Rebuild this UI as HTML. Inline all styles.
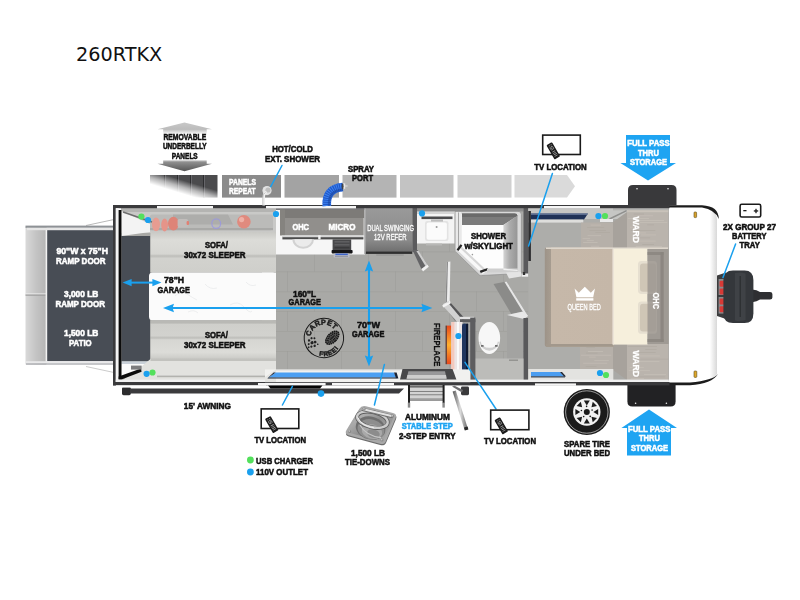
<!DOCTYPE html>
<html><head><meta charset="utf-8"><title>260RTKX</title>
<style>
html,body{margin:0;padding:0;background:#fff;}
body{width:800px;height:600px;overflow:hidden;position:relative;font-family:'Liberation Sans',sans-serif;}
#title{position:absolute;left:76.2px;top:42.2px;font-family:'DejaVu Sans','Liberation Sans',sans-serif;font-size:20px;line-height:24px;color:#111;white-space:nowrap;transform:scaleX(0.962);transform-origin:0 0;}
svg{position:absolute;left:0;top:0;will-change:transform;filter:blur(0.4px);}
svg text{font-family:'Liberation Sans',sans-serif;}
</style></head><body>
<div id="title">260RTKX</div>
<svg width="800" height="600" viewBox="0 0 800 600">
<defs>
<linearGradient id="gRamp" x1="0" y1="0" x2="1" y2="0"><stop offset="0" stop-color="#d9d9d9"/><stop offset="0.5" stop-color="#c4c4c4"/><stop offset="1" stop-color="#b4b4b4"/></linearGradient>
<linearGradient id="gUp" x1="0" y1="0" x2="0" y2="1"><stop offset="0" stop-color="#c8c8c8"/><stop offset="0.55" stop-color="#bcbcbc"/><stop offset="0.95" stop-color="#ffffff"/></linearGradient>
<linearGradient id="gDn" x1="0" y1="0" x2="0" y2="1"><stop offset="0" stop-color="#ffffff"/><stop offset="0.2" stop-color="#909090"/><stop offset="1" stop-color="#555555"/></linearGradient>
<linearGradient id="gPanelFade" gradientUnits="userSpaceOnUse" x1="185.6" y1="181" x2="181.8" y2="193.6"><stop offset="0" stop-color="#fff" stop-opacity="0"/><stop offset="0.5" stop-color="#fff" stop-opacity="0.6"/><stop offset="1" stop-color="#fff" stop-opacity="1"/></linearGradient>
<linearGradient id="gRefer" x1="0" y1="0" x2="0" y2="1"><stop offset="0" stop-color="#9a9a9a"/><stop offset="0.7" stop-color="#8a8a8a"/><stop offset="1" stop-color="#6a6a6a"/></linearGradient>
<linearGradient id="gSofaT" x1="0" y1="0" x2="0" y2="1"><stop offset="0" stop-color="#c9c9c5"/><stop offset="0.2" stop-color="#dcdcd8"/><stop offset="0.55" stop-color="#d6d6d2"/><stop offset="0.6" stop-color="#bdbdb9"/><stop offset="0.66" stop-color="#d2d2ce"/><stop offset="1" stop-color="#cfcfcb"/></linearGradient>
<linearGradient id="gSofaB" x1="0" y1="0" x2="0" y2="1"><stop offset="0" stop-color="#cfcfcb"/><stop offset="0.34" stop-color="#d2d2ce"/><stop offset="0.4" stop-color="#bdbdb9"/><stop offset="0.45" stop-color="#d6d6d2"/><stop offset="0.8" stop-color="#dcdcd8"/><stop offset="1" stop-color="#c9c9c5"/></linearGradient>
<linearGradient id="gSilver" x1="0" y1="0" x2="1" y2="1"><stop offset="0" stop-color="#cfcfcf"/><stop offset="0.5" stop-color="#8f8f8f"/><stop offset="1" stop-color="#adadad"/></linearGradient>
<linearGradient id="gFire" x1="0" y1="0" x2="0" y2="1"><stop offset="0" stop-color="#e8491d"/><stop offset="0.5" stop-color="#ffb02e"/><stop offset="1" stop-color="#e8491d"/></linearGradient>
<linearGradient id="gCap" x1="0" y1="0" x2="1" y2="0"><stop offset="0" stop-color="#ffffff"/><stop offset="0.85" stop-color="#ffffff"/><stop offset="1" stop-color="#d8d8d8"/></linearGradient>
<linearGradient id="gBlanket" x1="0" y1="0" x2="1" y2="0"><stop offset="0" stop-color="#9d9388"/><stop offset="0.085" stop-color="#a69c90"/><stop offset="0.095" stop-color="#c6b8a9"/><stop offset="1" stop-color="#c5b7a8"/></linearGradient>
<linearGradient id="gShW" x1="0" y1="0" x2="1" y2="0"><stop offset="0" stop-color="#d4d4d4"/><stop offset="0.45" stop-color="#ababab"/><stop offset="1" stop-color="#959595"/></linearGradient>
<linearGradient id="gHandle" x1="0" y1="0" x2="1" y2="0"><stop offset="0" stop-color="#555"/><stop offset="0.5" stop-color="#ddd"/><stop offset="1" stop-color="#666"/></linearGradient>
</defs>

<g id="panels">
<rect x="150" y="175" width="67.5" height="22.6" fill="#4b4b4d"/>
<rect x="164" y="175" width="1" height="22.6" fill="#2e2e30"/>
<rect x="165" y="175" width="1" height="22.6" fill="#66666a"/>
<rect x="177" y="175" width="1" height="22.6" fill="#2e2e30"/>
<rect x="178" y="175" width="1" height="22.6" fill="#66666a"/>
<rect x="190" y="175" width="1" height="22.6" fill="#2e2e30"/>
<rect x="191" y="175" width="1" height="22.6" fill="#66666a"/>
<rect x="203" y="175" width="1" height="22.6" fill="#2e2e30"/>
<rect x="204" y="175" width="1" height="22.6" fill="#66666a"/>
<rect x="149" y="174" width="69.5" height="24.6" fill="url(#gPanelFade)"/>
<rect x="222" y="175" width="59" height="22.6" fill="#8b8b8b"/>
<rect x="284.5" y="175" width="54.5" height="22.6" fill="#a3a3a3"/>
<rect x="342.5" y="175" width="54.0" height="22.6" fill="#b4b4b4"/>
<rect x="400" y="175" width="53.5" height="22.6" fill="#c3c3c3"/>
<rect x="457.5" y="175" width="54.0" height="22.6" fill="#d0d0d0"/>
<polygon points="514.5,175 567,175 575,186.3 567,197.6 514.5,197.6" fill="#dadada"/>
</g>
<polygon points="184.5,122.5 212,129.3 206.7,129.3 206.7,135 163.2,135 163.2,129.3 157.5,129.3" fill="url(#gUp)"/>
<polygon points="163.2,159.6 206.7,159.6 206.7,163.75 212,163.75 184.5,171.25 157.5,163.75 163.2,163.75" fill="url(#gDn)"/>
<text x="163.4" y="140.3" textLength="42.8" lengthAdjust="spacingAndGlyphs" font-size="8.6" font-weight="bold" fill="#111" stroke="#111" stroke-width="0.55" >REMOVABLE</text>
<text x="162.9" y="149.3" textLength="43.7" lengthAdjust="spacingAndGlyphs" font-size="8.6" font-weight="bold" fill="#111" stroke="#111" stroke-width="0.55" >UNDERBELLY</text>
<text x="171.8" y="158.6" textLength="25.9" lengthAdjust="spacingAndGlyphs" font-size="8.6" font-weight="bold" fill="#111" stroke="#111" stroke-width="0.55" >PANELS</text>
<text x="229.0" y="184.9" textLength="27.0" lengthAdjust="spacingAndGlyphs" font-size="8.8" font-weight="bold" fill="#fff" stroke="#fff" stroke-width="0.55" >PANELS</text>
<text x="229.0" y="194.2" textLength="26.6" lengthAdjust="spacingAndGlyphs" font-size="8.8" font-weight="bold" fill="#fff" stroke="#fff" stroke-width="0.55" >REPEAT</text>
<g id="ramp">
<line x1="86" y1="225.5" x2="114" y2="219.5" stroke="#9a9a9a" stroke-width="0.7"/>
<line x1="86" y1="366.5" x2="114" y2="372.5" stroke="#b5b5b5" stroke-width="0.7"/>
<rect x="25.5" y="226" width="21" height="139" rx="1.5" fill="url(#gRamp)"/>
<rect x="25.5" y="293.5" width="21" height="1" fill="#f4f4f4"/><rect x="25.5" y="294.5" width="21" height="1.2" fill="#9c9c9c"/>
<rect x="25.5" y="225.6" width="88" height="2.2" fill="#8e9296"/>
<rect x="27" y="227.8" width="86" height="2.4" fill="#e6e6e6"/>
<rect x="45.6" y="230" width="1.6" height="133" fill="#f2f2f2"/>
<rect x="47.2" y="230.2" width="66" height="131" fill="#484d55"/>
<rect x="26" y="361.2" width="88" height="2" fill="#e9e9ea"/>
<rect x="26" y="363.2" width="88" height="1.6" fill="#b8babd"/>
</g>
<g id="body">
<rect x="121" y="208" width="548" height="173" fill="#a9a9a6"/>
<rect x="276" y="251.5" width="252" height="0.8" fill="#9a9a97" opacity="0.55"/>
<rect x="276" y="271.4" width="252" height="0.8" fill="#9a9a97" opacity="0.55"/>
<rect x="276" y="291.4" width="252" height="0.8" fill="#9a9a97" opacity="0.55"/>
<rect x="276" y="311" width="252" height="0.8" fill="#9a9a97" opacity="0.55"/>
<rect x="276" y="331" width="252" height="0.8" fill="#9a9a97" opacity="0.55"/>
<rect x="276" y="351" width="252" height="0.8" fill="#9a9a97" opacity="0.55"/>
<rect x="287" y="231.5" width="0.8" height="20" fill="#9a9a97" opacity="0.5"/>
<rect x="341" y="231.5" width="0.8" height="20" fill="#9a9a97" opacity="0.5"/>
<rect x="395" y="231.5" width="0.8" height="20" fill="#9a9a97" opacity="0.5"/>
<rect x="449" y="231.5" width="0.8" height="20" fill="#9a9a97" opacity="0.5"/>
<rect x="503" y="231.5" width="0.8" height="20" fill="#9a9a97" opacity="0.5"/>
<rect x="314" y="251.5" width="0.8" height="20" fill="#9a9a97" opacity="0.5"/>
<rect x="368" y="251.5" width="0.8" height="20" fill="#9a9a97" opacity="0.5"/>
<rect x="422" y="251.5" width="0.8" height="20" fill="#9a9a97" opacity="0.5"/>
<rect x="476" y="251.5" width="0.8" height="20" fill="#9a9a97" opacity="0.5"/>
<rect x="287" y="271.4" width="0.8" height="20" fill="#9a9a97" opacity="0.5"/>
<rect x="341" y="271.4" width="0.8" height="20" fill="#9a9a97" opacity="0.5"/>
<rect x="395" y="271.4" width="0.8" height="20" fill="#9a9a97" opacity="0.5"/>
<rect x="449" y="271.4" width="0.8" height="20" fill="#9a9a97" opacity="0.5"/>
<rect x="503" y="271.4" width="0.8" height="20" fill="#9a9a97" opacity="0.5"/>
<rect x="314" y="291.4" width="0.8" height="20" fill="#9a9a97" opacity="0.5"/>
<rect x="368" y="291.4" width="0.8" height="20" fill="#9a9a97" opacity="0.5"/>
<rect x="422" y="291.4" width="0.8" height="20" fill="#9a9a97" opacity="0.5"/>
<rect x="476" y="291.4" width="0.8" height="20" fill="#9a9a97" opacity="0.5"/>
<rect x="287" y="311" width="0.8" height="20" fill="#9a9a97" opacity="0.5"/>
<rect x="341" y="311" width="0.8" height="20" fill="#9a9a97" opacity="0.5"/>
<rect x="395" y="311" width="0.8" height="20" fill="#9a9a97" opacity="0.5"/>
<rect x="449" y="311" width="0.8" height="20" fill="#9a9a97" opacity="0.5"/>
<rect x="503" y="311" width="0.8" height="20" fill="#9a9a97" opacity="0.5"/>
<rect x="314" y="331" width="0.8" height="20" fill="#9a9a97" opacity="0.5"/>
<rect x="368" y="331" width="0.8" height="20" fill="#9a9a97" opacity="0.5"/>
<rect x="422" y="331" width="0.8" height="20" fill="#9a9a97" opacity="0.5"/>
<rect x="476" y="331" width="0.8" height="20" fill="#9a9a97" opacity="0.5"/>
<rect x="287" y="351" width="0.8" height="20" fill="#9a9a97" opacity="0.5"/>
<rect x="341" y="351" width="0.8" height="20" fill="#9a9a97" opacity="0.5"/>
<rect x="395" y="351" width="0.8" height="20" fill="#9a9a97" opacity="0.5"/>
<rect x="449" y="351" width="0.8" height="20" fill="#9a9a97" opacity="0.5"/>
<rect x="503" y="351" width="0.8" height="20" fill="#9a9a97" opacity="0.5"/>
<rect x="121" y="208" width="156" height="25" fill="#c9c9c7"/>
<rect x="121" y="208" width="156" height="4" fill="#b4b4b2"/>
<polygon points="121.5,211 150,224 150,232 121.5,236" fill="#f3f3f3"/>
<rect x="150" y="214.6" width="123" height="15.6" rx="2" fill="#bbbbb9"/>
<path d="M173 214.6 H228 L233 224.6 H173 z" fill="#adadab"/>
<rect x="150" y="228" width="123" height="2.2" fill="#a9a9a7"/>
<ellipse cx="156" cy="224.4" rx="4" ry="6.8" fill="#e79c91"/><ellipse cx="164.6" cy="225" rx="3.4" ry="6.4" fill="#e59489"/><ellipse cx="173.4" cy="223.6" rx="5.4" ry="6.8" fill="#de8478"/><rect x="177.6" y="219" width="10.4" height="8" rx="1.5" fill="#c1bdbb"/><rect x="186.6" y="221" width="2.4" height="4" rx="1" fill="#e27f72"/>
<circle cx="243.9" cy="221.8" r="6.8" fill="#e08a7e"/><circle cx="241.6" cy="219.6" r="2.6" fill="#eeb0a6"/>
<ellipse cx="216.2" cy="223.6" rx="4.4" ry="4.8" fill="none" stroke="#9a98e0" stroke-width="1.2" opacity="0.85"/>
<line x1="123" y1="212" x2="152" y2="222" stroke="#6d6d6d" stroke-width="1.4"/>
<rect x="121.5" y="236" width="28.7" height="125.3" fill="#484d55"/>
<rect x="121.5" y="361.3" width="28" height="2.8" fill="#c9d0d8"/>
<rect x="121.5" y="364" width="24" height="13" fill="#fbfbfb"/>
<rect x="150.5" y="232" width="125.5" height="40" fill="url(#gSofaT)"/>
<rect x="149" y="272.6" width="127" height="47.6" rx="3.5" fill="#fbfbfb"/>
<rect x="262" y="272.6" width="14" height="47.6" fill="#fbfbfb"/>
<rect x="150.5" y="320.2" width="125.5" height="3.5" fill="#b9b9b5"/>
<rect x="150.5" y="323.5" width="125.5" height="36" fill="url(#gSofaB)"/>
<polygon points="150.5,359 276,359 276,381 121.5,381 142,366 " fill="#e2e2df"/>
<rect x="150.5" y="358.5" width="125.5" height="2.5" fill="#c2c2be"/>
<rect x="157" y="375.6" width="119" height="1.6" fill="#b2b2ae"/>
<path d="M175 296 q6 -6 12 -2 t10 6 M205 284 q5 6 12 4 M230 305 q8 -5 14 2 t8 4 M188 312 q6 -3 10 1 M246 282 q4 5 10 3" fill="none" stroke="#e6e8ea" stroke-width="0.7"/>
</g>
<g id="kitchen">
<rect x="276" y="208" width="89" height="46.5" fill="#f6f6f6"/>
<rect x="276" y="208" width="89" height="2" fill="#77777a"/>
<rect x="280" y="209.5" width="84.5" height="9" fill="#7d7b78"/>
<rect x="280" y="209.5" width="5" height="26" fill="#85837f"/>
<rect x="285" y="218" width="79.5" height="17.4" fill="#918f8c"/>
<rect x="282" y="235.4" width="81.6" height="1.8" fill="#d6d6d6"/>
<rect x="282.4" y="237.2" width="81" height="2.2" fill="#4c4c4c"/>
<rect x="318.2" y="235.4" width="2.4" height="4" fill="#f6f6f6"/>
<rect x="363.6" y="218" width="0.9" height="18" fill="#e8e8e8"/>
<path d="M292.4 239.2 h21.6 a10.8 9.6 0 0 1 -21.6 0 z" fill="#d2d2d2"/>
<path d="M294.4 239.2 h17.6 a8.8 7.6 0 0 1 -17.6 0 z" fill="#ebebeb"/>
<rect x="332.6" y="239.4" width="18.6" height="13" fill="#48484a"/>
<rect x="334.5" y="241" width="15" height="1.6" fill="#5e5e60"/><rect x="334.5" y="244" width="15" height="1.6" fill="#5e5e60"/><rect x="334.5" y="247" width="15" height="1.4" fill="#39393b"/>
<rect x="331.6" y="250" width="21" height="3.4" rx="0.8" fill="#151517"/>
<rect x="333.6" y="253.4" width="16" height="4.2" rx="1.2" fill="#b9bcc9"/><rect x="335.4" y="253.6" width="12.4" height="1.5" fill="#3f66cc"/><rect x="335" y="255.8" width="13" height="1" fill="#8d8f99"/>
<rect x="364.5" y="208" width="48" height="46" fill="url(#gRefer)"/>
<rect x="364.5" y="208" width="1" height="46" fill="#b9b9b9"/>
<rect x="366" y="251.6" width="46" height="2.2" fill="#2f2f2f"/>
<rect x="376" y="254" width="28" height="2" rx="1" fill="#9c9c9a"/>
</g>
<g id="bath">
<rect x="412.5" y="208" width="4.5" height="44" fill="#5b5b5d"/>
<polygon points="412.5,250 417.5,250 427.4,264.6 421.4,269" fill="#646466"/>
<polygon points="416.4,251 418.6,251 427.4,264.4 425.4,266" fill="#cfcfcf"/>
<polygon points="421.4,269 427.4,264.6 428.8,266.8 423,271.4" fill="#f0f0f0"/>
<rect x="417" y="208" width="37.5" height="35.5" fill="#f4f4f4"/>
<rect x="417" y="208" width="37.5" height="6" fill="#d5d5d5"/>
<rect x="421.5" y="216.5" width="31" height="2.6" fill="#4c4c4e"/>
<rect x="425" y="221" width="23.5" height="20" rx="2.2" fill="#e3e3e3"/>
<rect x="426.6" y="222.4" width="20.3" height="17.4" rx="2" fill="#fbfbfb"/>
<rect x="431" y="219.4" width="12" height="2.2" fill="#bdbdbd"/>
<circle cx="436.6" cy="227" r="1" fill="#9a9a9a"/>
<rect x="426" y="243.5" width="16" height="2" fill="#b8b8b6"/>
<path d="M455.3 211.3 H518 Q521.4 211.3 521.4 214.6 V273.4 L480 275.6 L455.3 251 z" fill="#d9d9d9" stroke="#8f8f8f" stroke-width="0.7"/>
<polygon points="461.4,214 517.6,214 517.6,270 485,271.6 461.4,248.4" fill="#fdfdfd"/>
<path d="M462 213.6 H514.6 Q517.4 213.6 517.4 216 L503.4 225 H462 z" fill="#7b7b7b"/>
<path d="M462 213.6 H514.6 Q517.4 213.6 517.4 216 L516 217 H462 z" fill="#6a6a6a"/>
<polygon points="517.6,215.6 517.6,270 503.4,268.4 503.4,225" fill="url(#gShW)"/>
<rect x="455.6" y="212" width="5.6" height="38.6" fill="#e9e9e9"/>
<rect x="458" y="212.4" width="0.9" height="38" fill="#9d9d9d"/>
<polygon points="455.4,251 461.2,246.2 487,270.8 481,275.4" fill="#d6d6d6"/>
<polygon points="457.8,250.6 460.4,248.4 485.4,272 482.6,274" fill="#f8f8f8"/>
<polygon points="456.6,249.6 460.6,244.2 462.4,245.6 458.4,251" fill="#262626"/>
<polygon points="479.6,270.8 487.6,268 488.4,270 480.8,273" fill="#262626"/>
<polygon points="487,268.6 518,268.6 518,272 487,272.6" fill="#cfcfcf"/>
<polygon points="503.4,268.4 517.6,270 517.6,271 503.4,270" fill="#f1f1f1"/>
<polygon points="506,272.4 521,272 521,276.4 509,278.4" fill="#e4e4e4"/>
<circle cx="472.4" cy="254.6" r="0.8" fill="#9a9a9a"/>
<rect x="417" y="208" width="106.5" height="3.4" fill="#8c8c8c"/>
<rect x="523.5" y="208" width="4.8" height="68" fill="#59595b"/>
<rect x="521.5" y="273.5" width="7" height="3.2" fill="#f0f0f0"/><rect x="522.8" y="272" width="2.4" height="3" fill="#333"/>
<polygon points="446.8,262 450.4,261.4 449.6,305 445.4,305" fill="#ededed"/>
<polygon points="446.8,262 448,261.8 446.8,305 445.4,305" fill="#8a8a8a"/>
<polygon points="443,304 448.5,301.5 460.5,318 455,321" fill="#7d7d7d"/>
<polygon points="445.6,303.2 448.5,301.5 460.5,318 458,319.4" fill="#dadada"/>
<polygon points="443,304 450,301 451,303.4 444.4,306.4" fill="#f4f4f4"/>
<polygon points="493.5,284 506.5,281.5 528,316 516,322" fill="#8b8b89"/>
<polygon points="504.5,282 506.5,281.5 528,316 526,317" fill="#e6e6e6"/>
<polygon points="507,315 523,311.5 523,368 507,368" fill="#a3a3a1"/>
<polygon points="507,315 523,311.5 528,316 524,319 " fill="#e8e8e8"/>
<rect x="523.4" y="318" width="4.8" height="65" fill="#59595b"/>
<rect x="475" y="358.5" width="48.5" height="23" fill="#bcbcb9"/>
<rect x="509" y="359.5" width="9" height="1.4" fill="#8f8f8d"/>
<ellipse cx="489.3" cy="338" rx="10.8" ry="16" fill="#f7f7f7"/>
<path d="M479.4 342 a10.2 11.6 0 0 0 19.8 0 l-1.4 -0.6 a8 6 0 0 1 -17 0 z" fill="#cfcfcf"/>
<rect x="481" y="345.2" width="2.6" height="1.4" fill="#555"/><rect x="495" y="345.2" width="2.6" height="1.4" fill="#555"/>
<polygon points="442.6,305.4 447,302.4 463,319.4 463,323 458.6,323.6" fill="#d2d2d2"/>
<polygon points="447.4,302 450.6,302.8 465,318.8 462.6,320" fill="#555557"/>
<polygon points="442.2,305.6 449.6,301.4 450.6,303.6 443.4,307.6" fill="#f2f2f2"/>
<rect x="460" y="316.8" width="14" height="2.6" fill="#e2e2e2"/>
<rect x="460" y="319.2" width="15.4" height="3" fill="#5d5d5f"/>
<rect x="470.2" y="317.6" width="5.2" height="65" fill="#5d5d5f"/>
<rect x="446.6" y="325.6" width="4.8" height="38.6" fill="url(#gFire)"/>
<rect x="445.6" y="325.6" width="1.2" height="38.6" fill="#59302a"/>
<rect x="451.4" y="322" width="10.8" height="50" fill="#ece4e4"/>
<rect x="451.4" y="322" width="3" height="50" fill="#f4c9bd"/>
<rect x="457" y="322" width="2" height="50" fill="#fafafa"/>
<rect x="462" y="323.6" width="5.2" height="50.6" rx="2" fill="#20355e"/>
<rect x="466" y="323.6" width="2.2" height="50.6" rx="1" fill="#0e1830"/>
</g>
<g id="bed">
<rect x="528.3" y="208" width="85" height="173" fill="#adadaa"/>
<rect x="528.3" y="208" width="100" height="11" fill="#c6c6c4"/>
<polygon points="531,213.4 588,213.4 584,219.6 531,219.6" fill="#1f3157"/>
<polygon points="531,213.4 588,213.4 587.2,214.8 531,214.8" fill="#6f7fa0"/>
<rect x="528.3" y="219.6" width="55" height="3" fill="#dededc"/>
<rect x="528.3" y="211" width="2.6" height="50" fill="#2d2d2f"/>
<rect x="581" y="222.6" width="32" height="25.4" fill="#b6b0a9"/>
<rect x="580" y="345" width="33" height="24" fill="#b6b0a9"/>
<polygon points="613,222 627,212 627,248 613,248" fill="#a7a29c"/>
<rect x="627" y="212" width="41.5" height="36.5" fill="#bab4ad"/>
<polygon points="613,370 627,380 627,344 613,344" fill="#a7a29c"/>
<rect x="627" y="344" width="41.5" height="36.5" fill="#bab4ad"/>
<rect x="613" y="208" width="55.5" height="2.4" fill="#b3b3b1"/>
<rect x="627" y="210.2" width="41.5" height="2" fill="#c9c2ba"/>
<line x1="609.5" y1="219" x2="626.6" y2="210.6" stroke="#8f8f8d" stroke-width="1.5"/>
<rect x="633.7" y="213.7" width="10.3" height="0.7" fill="#a79f97" opacity="0.45"/>
<rect x="638.1" y="215.5" width="14.9" height="0.7" fill="#d6cec6" opacity="0.45"/>
<rect x="627.8" y="218.2" width="21.1" height="0.7" fill="#d6cec6" opacity="0.45"/>
<rect x="635.8" y="220.0" width="28.1" height="0.7" fill="#d6cec6" opacity="0.45"/>
<rect x="640.0" y="222.1" width="27.3" height="0.7" fill="#d6cec6" opacity="0.45"/>
<rect x="647.3" y="224.5" width="6.7" height="0.7" fill="#a79f97" opacity="0.45"/>
<rect x="630.0" y="226.8" width="9.8" height="0.7" fill="#d6cec6" opacity="0.45"/>
<rect x="630.8" y="230.2" width="24.5" height="0.7" fill="#a79f97" opacity="0.45"/>
<rect x="638.4" y="232.6" width="7.5" height="0.7" fill="#d6cec6" opacity="0.45"/>
<rect x="641.1" y="234.6" width="15.1" height="0.7" fill="#d6cec6" opacity="0.45"/>
<rect x="636.4" y="237.5" width="13.8" height="0.7" fill="#a79f97" opacity="0.45"/>
<rect x="632.1" y="240.7" width="23.5" height="0.7" fill="#d6cec6" opacity="0.45"/>
<rect x="642.1" y="244.2" width="11.9" height="0.7" fill="#a79f97" opacity="0.45"/>
<rect x="635.7" y="246.1" width="26.3" height="0.7" fill="#d6cec6" opacity="0.45"/>
<rect x="627.8" y="346.2" width="29.2" height="0.7" fill="#a79f97" opacity="0.45"/>
<rect x="645.2" y="349.1" width="11.4" height="0.7" fill="#a79f97" opacity="0.45"/>
<rect x="639.0" y="352.0" width="16.7" height="0.7" fill="#a79f97" opacity="0.45"/>
<rect x="636.8" y="355.6" width="23.0" height="0.7" fill="#d6cec6" opacity="0.45"/>
<rect x="640.4" y="358.8" width="27.9" height="0.7" fill="#a79f97" opacity="0.45"/>
<rect x="635.0" y="361.0" width="24.4" height="0.7" fill="#d6cec6" opacity="0.45"/>
<rect x="630.5" y="363.6" width="9.7" height="0.7" fill="#d6cec6" opacity="0.45"/>
<rect x="629.7" y="366.9" width="14.1" height="0.7" fill="#d6cec6" opacity="0.45"/>
<rect x="628.7" y="370.4" width="21.2" height="0.7" fill="#d6cec6" opacity="0.45"/>
<rect x="644.0" y="374.0" width="22.0" height="0.7" fill="#d6cec6" opacity="0.45"/>
<rect x="634.4" y="376.5" width="30.8" height="0.7" fill="#a79f97" opacity="0.45"/>
<rect x="630.7" y="378.4" width="13.4" height="0.7" fill="#d6cec6" opacity="0.45"/>
<rect x="590.6" y="224.7" width="10.2" height="0.7" fill="#d6cec6" opacity="0.45"/>
<rect x="587.2" y="227.2" width="16.9" height="0.7" fill="#a79f97" opacity="0.45"/>
<rect x="589.5" y="230.3" width="16.5" height="0.7" fill="#a79f97" opacity="0.45"/>
<rect x="595.4" y="232.1" width="14.6" height="0.7" fill="#a79f97" opacity="0.45"/>
<rect x="587.6" y="235.4" width="13.5" height="0.7" fill="#d6cec6" opacity="0.45"/>
<rect x="582.5" y="238.4" width="7.6" height="0.7" fill="#d6cec6" opacity="0.45"/>
<rect x="586.8" y="240.4" width="7.0" height="0.7" fill="#d6cec6" opacity="0.45"/>
<rect x="583.1" y="242.3" width="14.5" height="0.7" fill="#d6cec6" opacity="0.45"/>
<rect x="591.0" y="245.8" width="8.3" height="0.7" fill="#d6cec6" opacity="0.45"/>
<rect x="586.3" y="347.2" width="8.5" height="0.7" fill="#a79f97" opacity="0.45"/>
<rect x="588.0" y="351.0" width="15.0" height="0.7" fill="#d6cec6" opacity="0.45"/>
<rect x="586.0" y="352.8" width="11.4" height="0.7" fill="#a79f97" opacity="0.45"/>
<rect x="580.9" y="354.8" width="30.4" height="0.7" fill="#d6cec6" opacity="0.45"/>
<rect x="589.2" y="356.7" width="6.5" height="0.7" fill="#d6cec6" opacity="0.45"/>
<rect x="594.3" y="360.4" width="14.5" height="0.7" fill="#d6cec6" opacity="0.45"/>
<rect x="583.2" y="362.8" width="24.0" height="0.7" fill="#d6cec6" opacity="0.45"/>
<rect x="585.8" y="366.2" width="10.6" height="0.7" fill="#a79f97" opacity="0.45"/>
<polygon points="600,219 613,219 613,222 600,222" fill="#e9e9e9"/>
<rect x="528.3" y="369" width="85" height="12" fill="#e3e3e0"/>
<polygon points="531,372 560,372 564,376.6 531,376.6" fill="#4a9df0"/>
<polygon points="560,372 564,376.6 566,376.6 562,372" fill="#1d2330"/>
<rect x="531" y="376.4" width="34" height="1" fill="#1d2330"/>
<rect x="544.8" y="247.4" width="69" height="99.4" rx="2" fill="url(#gBlanket)"/>
<rect x="546" y="344" width="67.4" height="2.8" fill="#a2988c"/>
<rect x="546" y="247.4" width="122" height="1.6" fill="#ddd6cc"/>
<rect x="613" y="248.6" width="34.5" height="96" fill="#f6efdc"/>
<rect x="612.4" y="248.6" width="1.4" height="96" fill="#e9e2d8"/>
<rect x="638" y="261" width="19" height="33" rx="3.4" fill="#e6dfd0"/>
<rect x="638" y="301.4" width="19" height="32.4" rx="3.4" fill="#e6dfd0"/>
<rect x="640" y="263.4" width="16" height="28.4" rx="3" fill="#cfc6b6"/>
<rect x="640" y="303.8" width="16" height="27.6" rx="3" fill="#cfc6b6"/>
<rect x="647.5" y="249" width="21" height="95" fill="#9d9791" opacity="0.86"/>
<rect x="660.5" y="252" width="3.2" height="90" fill="#8a847e" opacity="0.9"/>
<rect x="647.5" y="252" width="16" height="3" fill="#8a847e" opacity="0.8"/>
<rect x="647.5" y="339" width="16" height="3" fill="#8a847e" opacity="0.8"/>
<path d="M574.6 288.6 l4.2 4.2 l6 -6 l6 6 l4.2 -4.2 l-1.8 8.6 h-16.8 z" fill="#fff"/>
<rect x="576.2" y="298.2" width="17.2" height="2.4" fill="#fff"/>
<text x="567.6" y="310.4" textLength="33.2" lengthAdjust="spacingAndGlyphs" font-size="9.4" font-weight="normal" fill="#fff" stroke="#fff" stroke-width="0.3" >QUEEN BED</text>
<text transform="translate(633.2,216.6) rotate(90)" x="0" y="0" textLength="26.4" lengthAdjust="spacingAndGlyphs" font-size="9.4" font-weight="bold" fill="#fff" stroke="#fff" stroke-width="0.3">WARD</text>
<text transform="translate(633.2,350.4) rotate(90)" x="0" y="0" textLength="26.6" lengthAdjust="spacingAndGlyphs" font-size="9.4" font-weight="bold" fill="#fff" stroke="#fff" stroke-width="0.3">WARD</text>
<text transform="translate(652.6,292.5) rotate(90)" x="0" y="0" textLength="16.5" lengthAdjust="spacingAndGlyphs" font-size="9.2" font-weight="bold" fill="#fff" stroke="#fff" stroke-width="0.3">OHC</text>
</g>
<g id="cap">
<path d="M669 207 H703 Q716.6 208 717 220 V374 Q712 382 690 383.4 H669 z" fill="url(#gCap)"/>
<path d="M669 205.2 H702 Q718.8 206 718.8 219 Q715 209.8 702 207.6 H669 z" fill="#1c1c1c"/>
<path d="M669 385.2 H690 Q712 384 718 374 Q713 380.4 690 382.6 H669 z" fill="#1c1c1c"/>
<rect x="694" y="212" width="2.6" height="5.6" rx="0.8" fill="#d9a12a" stroke="#5a4a1a" stroke-width="0.6"/>
<rect x="694" y="371" width="2.8" height="6.4" rx="0.8" fill="#e0a82a" stroke="#5a4a1a" stroke-width="0.6"/>
</g>
<path d="M628 205.5 V190 q0 -5 5 -5 h38.5 q5 0 5 5 V205.5 z" fill="#39393b"/>
<circle cx="637" cy="188.8" r="0.8" fill="#eee"/><circle cx="668" cy="188.8" r="0.8" fill="#eee"/>
<path d="M627.4 384.5 V401.5 q0 5 5 5 h38.2 q5 0 5 -5 V384.5 z" fill="#222224"/>
<circle cx="635.6" cy="403.2" r="0.8" fill="#eee"/><circle cx="666.4" cy="403.2" r="0.8" fill="#eee"/>
<g id="walls">
<rect x="113" y="205" width="556.5" height="3.2" fill="#3a3a3c"/>
<rect x="113" y="205" width="2.8" height="180.4" fill="#3a3a3c"/>
<rect x="115.8" y="208.2" width="2.8" height="174" fill="#f4f4f4"/>
<rect x="118.6" y="210" width="2.8" height="169.5" fill="#0c0c0c"/>
<polygon points="118.6,376.6 141,368.6 141.6,371.8 121.4,379.6 118.6,379.6" fill="#0c0c0c"/>
<rect x="131" y="365.6" width="10.6" height="4" fill="#7c7c7e"/>
<rect x="115.8" y="379.6" width="553" height="2.6" fill="#f0f0f0"/>
<rect x="113" y="382" width="556.5" height="3.4" fill="#3a3a3c"/>
<rect x="157" y="206" width="56" height="2.4" fill="#f6f6f6"/>
<rect x="266" y="206" width="90" height="2.4" fill="#f6f6f6"/>
<rect x="544" y="206" width="56" height="2.4" fill="#f6f6f6"/>
<rect x="535" y="383.4" width="41" height="2.4" fill="#f6f6f6"/>
</g>
<g id="bottom">
<rect x="265" y="369.4" width="205.4" height="12.8" fill="#f1f1ef"/>
<polygon points="276,369.4 265,377 265,382 276,382" fill="#e4e4e1"/>
<polygon points="275.6,372.5 394,372.5 396,377.6 268.6,377.6" fill="#4b9ff2"/>
<polygon points="268.6,377.4 396,377.4 396.4,378.6 267.4,378.6" fill="#1a2233"/>
<polygon points="394,372.5 396.6,372.5 398.4,378.6 396,378.6" fill="#1a2233"/>
<polygon points="275.6,372.5 268.6,377.6 267.2,378.4 273.6,372.5" fill="#1a2233"/>
<rect x="276" y="369.4" width="124" height="0.9" fill="#d0d0cd"/>
<polygon points="402.5,369 452.5,369 456.4,379.6 400,379.6" fill="#48484a"/>
<polygon points="408.4,371.2 445,371.2 446.6,378.8 406.6,378.8" fill="#98989a"/>
<polygon points="407.4,375 446,375 446.6,378.8 406.6,378.8" fill="#cdcdcd"/>
<rect x="258" y="383" width="67.6" height="2.4" fill="#f6f6f6"/>
<rect x="332" y="383" width="62" height="2.4" fill="#f6f6f6"/>
<rect x="122" y="386.8" width="8.8" height="8.4" rx="1.6" fill="#2c2c2e"/>
<polygon points="130,388.4 404,388.4 399,393.4 130,393.4" fill="#3b3b3d"/>
<polygon points="268,385.5 322.5,385.5 320,388.4 270.5,388.4" fill="#050505"/>
<rect x="116" y="385.4" width="150" height="2.2" fill="#ffffff"/>
<rect x="409" y="385.4" width="35" height="15.4" fill="#d3d3d3"/>
<rect x="409" y="385.4" width="35" height="2.2" fill="#6a6a6a"/>
<rect x="409" y="391" width="35" height="0.8" fill="#6e6e6e"/>
<rect x="409" y="394.4" width="35" height="0.8" fill="#6e6e6e"/>
<rect x="409" y="398.6" width="35" height="0.8" fill="#6e6e6e"/>
<rect x="409" y="399.6" width="35" height="1.2" fill="#8a8a8a"/>
<rect x="408" y="385" width="2" height="18" fill="#1e1e1e"/><rect x="442.6" y="385" width="2" height="18" fill="#1e1e1e"/>
<rect x="407.8" y="402.6" width="2.4" height="5" fill="#8a8a8a"/><rect x="442.4" y="402.6" width="2.4" height="5" fill="#8a8a8a"/>
<rect x="461" y="386.6" width="8" height="8.6" rx="1.4" fill="#3a3a3c"/>
<polygon points="452,386.6 454.6,385.8 463,390 462,392.4" fill="#6d6d6f"/>
<polygon points="452.6,391.4 455.8,390.4 467.8,428.4 464.4,429.6" fill="url(#gHandle)"/>
<polygon points="464,427.6 467.6,426.6 468.4,429.4 464.8,430.4" fill="#2a2a2a"/>
</g>
<g id="hitch">
<polygon points="717,275.6 726,272.6 726,319 717,316" fill="#3c3c3e"/>
<rect x="718.6" y="279" width="7.4" height="16" fill="#8a8a8c"/><rect x="718.6" y="297" width="7.4" height="16.6" fill="#8a8a8c"/>
<rect x="719.6" y="280.8" width="5" height="6" rx="1" fill="#d83a36"/>
<rect x="719.6" y="288.4" width="5" height="6" rx="1" fill="#d83a36"/>
<rect x="719.6" y="298.6" width="5" height="6" rx="1" fill="#d83a36"/>
<rect x="719.6" y="306.2" width="5" height="6" rx="1" fill="#d83a36"/>
<path d="M752 289.4 q5 0.2 8 2.6 h10 q2.4 0 2.4 2 v3.6 q0 2 -2.4 2 h-10 q-3 2.4 -8 2.6 z" fill="#2e2f32"/>
<path d="M723.4 280 Q723.6 270.4 733 270.4 H744.6 Q753.4 270.4 753.4 280 V313.4 Q753.4 323 744.6 323 H733 Q723.6 323 723.4 313.4 z" fill="#34373b"/>
<path d="M735 273 Q740 271.6 745.6 273.4 V320 Q740 321.8 735 320.4 z" fill="#3f4246"/>
<rect x="739.6" y="276" width="1.2" height="41" fill="#2b2d30"/>
</g>
<g id="arrows">
<line x1="128" y1="282.6" x2="156" y2="282.6" stroke="#1aa0ee" stroke-width="2"/>
<polygon points="122.6,282.6 131.6,279 131.6,286.2" fill="#1aa0ee"/><polygon points="161.4,282.6 152.4,279 152.4,286.2" fill="#1aa0ee"/>
<line x1="170" y1="308" x2="425" y2="308" stroke="#1aa0ee" stroke-width="2.1"/>
<polygon points="163,308 174,303.8 172.6,308 174,312.2" fill="#1aa0ee"/><polygon points="432.4,308 421.4,303.8 422.8,308 421.4,312.2" fill="#1aa0ee"/>
<line x1="369" y1="268" x2="369" y2="360" stroke="#1aa0ee" stroke-width="2.1"/>
<polygon points="369,260.4 364.8,271.4 369,270 373.2,271.4" fill="#1aa0ee"/><polygon points="369,366.6 364.8,355.6 369,357 373.2,355.6" fill="#1aa0ee"/>
<line x1="282" y1="165.5" x2="268.6" y2="190.6" stroke="#1aa0ee" stroke-width="1.5" stroke-linecap="round"/>
<line x1="552.4" y1="173.5" x2="528.6" y2="246" stroke="#1aa0ee" stroke-width="1.5" stroke-linecap="round"/>
<line x1="735.6" y1="244" x2="723" y2="277.6" stroke="#1aa0ee" stroke-width="1.5" stroke-linecap="round"/>
<line x1="292.4" y1="386.4" x2="282.4" y2="405" stroke="#1aa0ee" stroke-width="1.5" stroke-linecap="round"/>
<line x1="384.4" y1="364.4" x2="374.4" y2="405" stroke="#1aa0ee" stroke-width="1.5" stroke-linecap="round"/>
<line x1="465" y1="362.4" x2="496" y2="409" stroke="#1aa0ee" stroke-width="1.5" stroke-linecap="round"/>
<circle cx="141.4" cy="216.6" r="3.1" fill="#53e05c"/>
<circle cx="148" cy="220" r="3.1" fill="#1aa0ee"/>
<circle cx="276" cy="214" r="3.1" fill="#1aa0ee"/>
<circle cx="422" cy="213.4" r="3.1" fill="#1aa0ee"/>
<circle cx="605" cy="216" r="3.1" fill="#53e05c"/>
<circle cx="598.4" cy="216" r="3.1" fill="#1aa0ee"/>
<circle cx="152.5" cy="372.5" r="3.1" fill="#53e05c"/>
<circle cx="146.6" cy="373.8" r="3.1" fill="#1aa0ee"/>
<circle cx="606" cy="375" r="3.1" fill="#53e05c"/>
<circle cx="600" cy="373" r="3.1" fill="#1aa0ee"/>
<circle cx="321" cy="393.6" r="3.3" fill="#1aa0ee"/>
<circle cx="458.4" cy="336" r="3.1" fill="#1aa0ee"/>
<circle cx="250.4" cy="460" r="3.4" fill="#53e05c"/>
<circle cx="250.4" cy="472" r="3.4" fill="#1aa0ee"/>
</g>
<polygon points="626,135 670,135 670,163 676,163 648,180.6 620.4,163 626,163" fill="#1ea4f2"/>
<polygon points="649,409.6 677,428 671,428 671,455.6 627,455.6 627,428 621.4,428" fill="#1ea4f2"/>
<text x="627.2" y="146.2" textLength="42.4" lengthAdjust="spacingAndGlyphs" font-size="9" font-weight="bold" fill="#fff" stroke="#fff" stroke-width="0.55" >FULL PASS</text>
<text x="638.0" y="155.6" textLength="21.0" lengthAdjust="spacingAndGlyphs" font-size="9" font-weight="bold" fill="#fff" stroke="#fff" stroke-width="0.55" >THRU</text>
<text x="630.0" y="164.9" textLength="37.0" lengthAdjust="spacingAndGlyphs" font-size="9" font-weight="bold" fill="#fff" stroke="#fff" stroke-width="0.55" >STORAGE</text>
<text x="628.0" y="432.2" textLength="42.4" lengthAdjust="spacingAndGlyphs" font-size="9" font-weight="bold" fill="#fff" stroke="#fff" stroke-width="0.55" >FULL PASS</text>
<text x="639.0" y="441.4" textLength="21.0" lengthAdjust="spacingAndGlyphs" font-size="9" font-weight="bold" fill="#fff" stroke="#fff" stroke-width="0.55" >THRU</text>
<text x="631.0" y="450.5" textLength="37.0" lengthAdjust="spacingAndGlyphs" font-size="9" font-weight="bold" fill="#fff" stroke="#fff" stroke-width="0.55" >STORAGE</text>
<text x="272.2" y="151.9" textLength="40.6" lengthAdjust="spacingAndGlyphs" font-size="8.9" font-weight="bold" fill="#111" stroke="#111" stroke-width="0.55" >HOT/COLD</text>
<text x="265.0" y="161.5" textLength="55.0" lengthAdjust="spacingAndGlyphs" font-size="8.9" font-weight="bold" fill="#111" stroke="#111" stroke-width="0.55" >EXT. SHOWER</text>
<text x="348.0" y="171.9" textLength="26.0" lengthAdjust="spacingAndGlyphs" font-size="8.9" font-weight="bold" fill="#111" stroke="#111" stroke-width="0.55" >SPRAY</text>
<text x="352.0" y="180.9" textLength="21.0" lengthAdjust="spacingAndGlyphs" font-size="8.9" font-weight="bold" fill="#111" stroke="#111" stroke-width="0.55" >PORT</text>
<text x="534.2" y="169.5" textLength="52.6" lengthAdjust="spacingAndGlyphs" font-size="8.9" font-weight="bold" fill="#111" stroke="#111" stroke-width="0.55" >TV LOCATION</text>
<text x="723.0" y="229.9" textLength="53.0" lengthAdjust="spacingAndGlyphs" font-size="8.9" font-weight="bold" fill="#111" stroke="#111" stroke-width="0.55" >2X GROUP 27</text>
<text x="732.0" y="239.2" textLength="34.4" lengthAdjust="spacingAndGlyphs" font-size="8.9" font-weight="bold" fill="#111" stroke="#111" stroke-width="0.55" >BATTERY</text>
<text x="739.6" y="248.3" textLength="20.2" lengthAdjust="spacingAndGlyphs" font-size="8.9" font-weight="bold" fill="#111" stroke="#111" stroke-width="0.55" >TRAY</text>
<text x="56.4" y="254.2" textLength="51.6" lengthAdjust="spacingAndGlyphs" font-size="8.9" font-weight="bold" fill="#fff" stroke="#fff" stroke-width="0.55" >90"W x 75"H</text>
<text x="56.0" y="264.2" textLength="49.6" lengthAdjust="spacingAndGlyphs" font-size="8.9" font-weight="bold" fill="#fff" stroke="#fff" stroke-width="0.55" >RAMP DOOR</text>
<text x="64.0" y="296.9" textLength="34.4" lengthAdjust="spacingAndGlyphs" font-size="8.9" font-weight="bold" fill="#fff" stroke="#fff" stroke-width="0.55" >3,000 LB</text>
<text x="55.4" y="306.7" textLength="49.6" lengthAdjust="spacingAndGlyphs" font-size="8.9" font-weight="bold" fill="#fff" stroke="#fff" stroke-width="0.55" >RAMP DOOR</text>
<text x="64.0" y="336.3" textLength="34.4" lengthAdjust="spacingAndGlyphs" font-size="8.9" font-weight="bold" fill="#fff" stroke="#fff" stroke-width="0.55" >1,500 LB</text>
<text x="69.0" y="345.9" textLength="22.6" lengthAdjust="spacingAndGlyphs" font-size="8.9" font-weight="bold" fill="#fff" stroke="#fff" stroke-width="0.55" >PATIO</text>
<text x="205.0" y="247.7" textLength="23.0" lengthAdjust="spacingAndGlyphs" font-size="8.9" font-weight="bold" fill="#111" stroke="#111" stroke-width="0.55" >SOFA/</text>
<text x="184.0" y="258.1" textLength="61.6" lengthAdjust="spacingAndGlyphs" font-size="8.9" font-weight="bold" fill="#111" stroke="#111" stroke-width="0.55" >30x72 SLEEPER</text>
<text x="205.0" y="337.7" textLength="23.0" lengthAdjust="spacingAndGlyphs" font-size="8.9" font-weight="bold" fill="#111" stroke="#111" stroke-width="0.55" >SOFA/</text>
<text x="184.0" y="348.3" textLength="61.6" lengthAdjust="spacingAndGlyphs" font-size="8.9" font-weight="bold" fill="#111" stroke="#111" stroke-width="0.55" >30x72 SLEEPER</text>
<text x="164.0" y="283.3" textLength="20.0" lengthAdjust="spacingAndGlyphs" font-size="8.9" font-weight="bold" fill="#111" stroke="#111" stroke-width="0.55" >78"H</text>
<text x="157.6" y="292.5" textLength="32.4" lengthAdjust="spacingAndGlyphs" font-size="8.9" font-weight="bold" fill="#111" stroke="#111" stroke-width="0.55" >GARAGE</text>
<text x="293.0" y="296.5" textLength="23.0" lengthAdjust="spacingAndGlyphs" font-size="8.9" font-weight="bold" fill="#111" stroke="#111" stroke-width="0.55" >160"L</text>
<text x="288.6" y="305.3" textLength="32.4" lengthAdjust="spacingAndGlyphs" font-size="8.9" font-weight="bold" fill="#111" stroke="#111" stroke-width="0.55" >GARAGE</text>
<text x="357.0" y="327.9" textLength="23.0" lengthAdjust="spacingAndGlyphs" font-size="8.9" font-weight="bold" fill="#111" stroke="#111" stroke-width="0.55" >70"W</text>
<text x="352.0" y="337.3" textLength="32.4" lengthAdjust="spacingAndGlyphs" font-size="8.9" font-weight="bold" fill="#111" stroke="#111" stroke-width="0.55" >GARAGE</text>
<text x="292.4" y="230.1" textLength="16.6" lengthAdjust="spacingAndGlyphs" font-size="8.9" font-weight="bold" fill="#fff" stroke="#fff" stroke-width="0.55" >OHC</text>
<text x="328.6" y="230.1" textLength="26.8" lengthAdjust="spacingAndGlyphs" font-size="8.9" font-weight="bold" fill="#fff" stroke="#fff" stroke-width="0.55" >MICRO</text>
<text x="367.2" y="231.1" textLength="46.8" lengthAdjust="spacingAndGlyphs" font-size="9.2" font-weight="normal" fill="#fff" stroke="#fff" stroke-width="0.3" >DUAL SWINGING</text>
<text x="374.0" y="240.1" textLength="32.6" lengthAdjust="spacingAndGlyphs" font-size="9.2" font-weight="normal" fill="#fff" stroke="#fff" stroke-width="0.3" >12V REFER</text>
<text x="471.0" y="239.3" textLength="35.0" lengthAdjust="spacingAndGlyphs" font-size="8.9" font-weight="bold" fill="#111" stroke="#111" stroke-width="0.55" >SHOWER</text>
<text x="464.4" y="248.7" textLength="48.6" lengthAdjust="spacingAndGlyphs" font-size="8.9" font-weight="bold" fill="#111" stroke="#111" stroke-width="0.55" >w/SKYLIGHT</text>
<text transform="translate(434.4,323.0) rotate(90)" x="0" y="0" textLength="43.4" lengthAdjust="spacingAndGlyphs" font-size="9.4" font-weight="bold" fill="#111" stroke="#111" stroke-width="0.3">FIREPLACE</text>
<text x="183.8" y="408.7" textLength="47.2" lengthAdjust="spacingAndGlyphs" font-size="8.9" font-weight="bold" fill="#111" stroke="#111" stroke-width="0.55" >15' AWNING</text>
<text x="254.4" y="442.9" textLength="51.6" lengthAdjust="spacingAndGlyphs" font-size="8.9" font-weight="bold" fill="#111" stroke="#111" stroke-width="0.55" >TV LOCATION</text>
<text x="256.0" y="463.9" textLength="57.0" lengthAdjust="spacingAndGlyphs" font-size="8.9" font-weight="bold" fill="#111" stroke="#111" stroke-width="0.55" >USB CHARGER</text>
<text x="256.0" y="475.1" textLength="52.0" lengthAdjust="spacingAndGlyphs" font-size="8.9" font-weight="bold" fill="#111" stroke="#111" stroke-width="0.55" >110V OUTLET</text>
<text x="351.0" y="455.9" textLength="34.0" lengthAdjust="spacingAndGlyphs" font-size="8.9" font-weight="bold" fill="#111" stroke="#111" stroke-width="0.55" >1,500 LB</text>
<text x="345.0" y="465.1" textLength="45.0" lengthAdjust="spacingAndGlyphs" font-size="8.9" font-weight="bold" fill="#111" stroke="#111" stroke-width="0.55" >TIE-DOWNS</text>
<text x="405.0" y="419.9" textLength="44.8" lengthAdjust="spacingAndGlyphs" font-size="8.9" font-weight="bold" fill="#111" stroke="#111" stroke-width="0.55" >ALUMINUM</text>
<text x="401.8" y="429.3" textLength="51.0" lengthAdjust="spacingAndGlyphs" font-size="8.9" font-weight="bold" fill="#1ea4f2" stroke="#1ea4f2" stroke-width="0.55" >STABLE STEP</text>
<text x="399.0" y="438.7" textLength="56.6" lengthAdjust="spacingAndGlyphs" font-size="8.9" font-weight="bold" fill="#111" stroke="#111" stroke-width="0.55" >2-STEP ENTRY</text>
<text x="484.0" y="444.1" textLength="52.0" lengthAdjust="spacingAndGlyphs" font-size="8.9" font-weight="bold" fill="#111" stroke="#111" stroke-width="0.55" >TV LOCATION</text>
<text x="564.0" y="446.9" textLength="46.0" lengthAdjust="spacingAndGlyphs" font-size="8.9" font-weight="bold" fill="#111" stroke="#111" stroke-width="0.55" >SPARE TIRE</text>
<text x="564.0" y="456.3" textLength="46.0" lengthAdjust="spacingAndGlyphs" font-size="8.9" font-weight="bold" fill="#111" stroke="#111" stroke-width="0.55" >UNDER BED</text>
<rect x="261.2" y="408.9" width="37.6" height="19.6" fill="#fff" stroke="#1a1a1a" stroke-width="1.6"/>
<g transform="translate(271.8,424.6) rotate(-30)"><rect x="-3.2" y="-8.2" width="6.4" height="16.4" rx="1" fill="#1a1a1a"/><circle cx="0" cy="-3" r="1.7" fill="none" stroke="#bbb" stroke-width="0.6"/><circle cx="0" cy="-3" r="0.6" fill="#bbb"/><rect x="-1.6" y="-6.6" width="1.1" height="0.8" fill="#aaa"/><rect x="0.5" y="-6.6" width="1.1" height="0.8" fill="#aaa"/><rect x="-1.7" y="0.4" width="3.4" height="0.7" fill="#aaa"/><rect x="-1.7" y="2" width="3.4" height="0.7" fill="#aaa"/><rect x="-1.7" y="3.6" width="3.4" height="0.7" fill="#aaa"/><rect x="-1.7" y="5.2" width="3.4" height="0.7" fill="#aaa"/></g>
<rect x="490.7" y="410.09999999999997" width="38.200000000000024" height="19.6" fill="#fff" stroke="#1a1a1a" stroke-width="1.6"/>
<g transform="translate(501.3,425.8) rotate(-30)"><rect x="-3.2" y="-8.2" width="6.4" height="16.4" rx="1" fill="#1a1a1a"/><circle cx="0" cy="-3" r="1.7" fill="none" stroke="#bbb" stroke-width="0.6"/><circle cx="0" cy="-3" r="0.6" fill="#bbb"/><rect x="-1.6" y="-6.6" width="1.1" height="0.8" fill="#aaa"/><rect x="0.5" y="-6.6" width="1.1" height="0.8" fill="#aaa"/><rect x="-1.7" y="0.4" width="3.4" height="0.7" fill="#aaa"/><rect x="-1.7" y="2" width="3.4" height="0.7" fill="#aaa"/><rect x="-1.7" y="3.6" width="3.4" height="0.7" fill="#aaa"/><rect x="-1.7" y="5.2" width="3.4" height="0.7" fill="#aaa"/></g>
<rect x="542.7" y="135.1" width="37.6" height="19.399999999999984" fill="#fff" stroke="#1a1a1a" stroke-width="1.6"/>
<g transform="translate(553.3,150.8) rotate(-30)"><rect x="-3.2" y="-8.2" width="6.4" height="16.4" rx="1" fill="#1a1a1a"/><circle cx="0" cy="-3" r="1.7" fill="none" stroke="#bbb" stroke-width="0.6"/><circle cx="0" cy="-3" r="0.6" fill="#bbb"/><rect x="-1.6" y="-6.6" width="1.1" height="0.8" fill="#aaa"/><rect x="0.5" y="-6.6" width="1.1" height="0.8" fill="#aaa"/><rect x="-1.7" y="0.4" width="3.4" height="0.7" fill="#aaa"/><rect x="-1.7" y="2" width="3.4" height="0.7" fill="#aaa"/><rect x="-1.7" y="3.6" width="3.4" height="0.7" fill="#aaa"/><rect x="-1.7" y="5.2" width="3.4" height="0.7" fill="#aaa"/></g>
<rect x="740.1" y="204.3" width="20.6" height="12.7" rx="1.6" fill="#fff" stroke="#1a1a1a" stroke-width="1.6"/>
<rect x="743.3" y="210" width="3.2" height="1.3" fill="#1a1a1a"/>
<rect x="753.8" y="210.3" width="4.4" height="1.3" fill="#1a1a1a"/><rect x="755.35" y="208.8" width="1.3" height="4.4" fill="#1a1a1a"/>
<g id="tiedown">
<path d="M359.2 409.1 Q361.5 405.2 365.9 406.3 L393.0 412.9 Q397.4 414.0 395.6 418.1 L386.0 440.9 Q384.2 445.0 379.9 443.8 L348.5 435.2 Q344.2 434.0 346.5 430.1 Z" fill="#6c6c6c" transform="translate(0.3,1.3)"/>
<path d="M359.2 409.1 Q361.5 405.2 365.9 406.3 L393.0 412.9 Q397.4 414.0 395.6 418.1 L386.0 440.9 Q384.2 445.0 379.9 443.8 L348.5 435.2 Q344.2 434.0 346.5 430.1 Z" fill="#a8a8a8"/>
<path d="M360.5 410.7 Q362.4 407.6 365.9 408.5 L390.9 414.5 Q394.4 415.4 393.0 418.7 L384.2 438.7 Q382.8 442.0 379.3 441.1 L350.9 433.3 Q347.4 432.4 349.3 429.3 Z" fill="url(#gSilver)"/>
<ellipse cx="370.6" cy="428" rx="15" ry="11.4" transform="rotate(14 370.6 428)" fill="#6f6f6f"/>
<ellipse cx="371" cy="429.4" rx="13.6" ry="10" transform="rotate(14 371 429.4)" fill="#8e8e8e"/>
<ellipse cx="372" cy="431.6" rx="10.4" ry="7.2" transform="rotate(14 372 431.6)" fill="#a9a9a9"/>
<ellipse cx="373.4" cy="433.6" rx="6.4" ry="4.2" transform="rotate(14 373.4 433.6)" fill="#8c8c8c"/>
<path d="M360 425 Q366 436 381 437.6" fill="none" stroke="#c6c6c6" stroke-width="1.2"/>
<ellipse cx="372.4" cy="419.8" rx="15.6" ry="7.6" transform="rotate(13 372.4 419.8)" fill="none" stroke="#5e5e5e" stroke-width="3.8"/>
<ellipse cx="372.4" cy="419.6" rx="15.6" ry="7.6" transform="rotate(13 372.4 419.6)" fill="none" stroke="#cdcdcd" stroke-width="2.4"/>
<path d="M357.6 417.4 Q362 426.6 374 427.8" fill="none" stroke="#f0f0f0" stroke-width="1"/>
<line x1="363.4" y1="409.6" x2="391.6" y2="416.4" stroke="#707070" stroke-width="3.2" stroke-linecap="round"/>
<line x1="363.4" y1="409.2" x2="391.6" y2="416" stroke="#e2e2e2" stroke-width="2" stroke-linecap="round"/>
<circle cx="364.2" cy="409" r="1.5" fill="#8a8a8a"/><circle cx="363.9" cy="408.7" r="0.8" fill="#c9c9c9"/>
<circle cx="392.6" cy="416" r="1.5" fill="#8a8a8a"/><circle cx="392.3" cy="415.7" r="0.8" fill="#c9c9c9"/>
<circle cx="382" cy="440" r="1.5" fill="#8a8a8a"/><circle cx="381.7" cy="439.7" r="0.8" fill="#c9c9c9"/>
<circle cx="349.6" cy="431.4" r="1.5" fill="#8a8a8a"/><circle cx="349.3" cy="431.09999999999997" r="0.8" fill="#c9c9c9"/>
</g>
<g id="tire">
<circle cx="586.8" cy="412" r="23.1" fill="#1b1b1b"/>
<circle cx="586.8" cy="412" r="21.2" fill="none" stroke="#f2f2f2" stroke-width="0.6"/>
<circle cx="586.8" cy="412" r="13.7" fill="#f1f1f1"/>
<polygon transform="rotate(0 586.8 412)" points="583.8,400.6 589.8,400.6 586.8,405.4" fill="#1b1b1b"/>
<polygon transform="rotate(45 586.8 412)" points="583.8,400.6 589.8,400.6 586.8,405.4" fill="#1b1b1b"/>
<polygon transform="rotate(90 586.8 412)" points="583.8,400.6 589.8,400.6 586.8,405.4" fill="#1b1b1b"/>
<polygon transform="rotate(135 586.8 412)" points="583.8,400.6 589.8,400.6 586.8,405.4" fill="#1b1b1b"/>
<polygon transform="rotate(180 586.8 412)" points="583.8,400.6 589.8,400.6 586.8,405.4" fill="#1b1b1b"/>
<polygon transform="rotate(225 586.8 412)" points="583.8,400.6 589.8,400.6 586.8,405.4" fill="#1b1b1b"/>
<polygon transform="rotate(270 586.8 412)" points="583.8,400.6 589.8,400.6 586.8,405.4" fill="#1b1b1b"/>
<polygon transform="rotate(315 586.8 412)" points="583.8,400.6 589.8,400.6 586.8,405.4" fill="#1b1b1b"/>
<circle cx="592.1" cy="410.1" r="0.8" fill="#1b1b1b"/>
<circle cx="590.2" cy="416.4" r="0.8" fill="#1b1b1b"/>
<circle cx="583.7" cy="416.6" r="0.8" fill="#1b1b1b"/>
<circle cx="581.4" cy="410.5" r="0.8" fill="#1b1b1b"/>
<circle cx="586.6" cy="406.4" r="0.8" fill="#1b1b1b"/>
<circle cx="586.8" cy="412" r="3" fill="#1b1b1b"/>
</g>
<g id="stamp" transform="rotate(-17 323.9 338)">
<circle cx="323.9" cy="338" r="19.7" fill="none" stroke="#1a1a1a" stroke-width="1"/>
<path id="arcTop" d="M310.5 338 A13.4 13.4 0 0 1 337.3 338" fill="none"/>
<path id="arcBot" d="M305.9 338 A18 18 0 0 0 341.9 338" fill="none"/>
<text font-size="7.2" font-weight="bold" fill="#1a1a1a" stroke="#1a1a1a" stroke-width="0.45" letter-spacing="0.35"><textPath href="#arcTop" startOffset="51%" text-anchor="middle">CARPET</textPath></text>
<text font-size="6.4" font-weight="bold" fill="#1a1a1a" stroke="#1a1a1a" stroke-width="0.45" letter-spacing="0.75"><textPath href="#arcBot" startOffset="52%" text-anchor="middle">FREE!</textPath></text>
<g transform="rotate(62 332 340.2)">
<ellipse cx="332" cy="340.2" rx="5" ry="8.6" fill="#2a2a2a" opacity="0.6"/>
<ellipse cx="332" cy="340.2" rx="4.4" ry="8" fill="none" stroke="#151515" stroke-width="1.6" stroke-dasharray="1.4 0.7"/>
<ellipse cx="332" cy="340.2" rx="2.4" ry="5.8" fill="none" stroke="#151515" stroke-width="1.6" stroke-dasharray="1.1 0.8"/>
<ellipse cx="332" cy="340.2" rx="0.9" ry="3.6" fill="#222"/>
</g>
<circle cx="309.0" cy="336.0" r="1.2" fill="#222"/>
<circle cx="312.0" cy="334.59999999999997" r="1.1" fill="#222"/>
<circle cx="314.8" cy="335.4" r="1" fill="#222"/>
<circle cx="307.6" cy="339.4" r="1" fill="#222"/>
<circle cx="311.2" cy="339.0" r="1.6" fill="#222"/>
<circle cx="314.40000000000003" cy="339.4" r="1.3" fill="#222"/>
<circle cx="309.40000000000003" cy="342.59999999999997" r="1.1" fill="#222"/>
<circle cx="312.8" cy="342.79999999999995" r="1.2" fill="#222"/>
<circle cx="306.6" cy="342.4" r="0.9" fill="#222"/>
<circle cx="316.2" cy="342.2" r="0.8" fill="#222"/>
</g>
<g id="hose">
<path d="M326.8 206 Q325.6 188.4 342.8 187" fill="none" stroke="#1f57c9" stroke-width="8.6"/>
<path d="M326.8 206 Q325.6 188.4 342.8 187" fill="none" stroke="#3f83ee" stroke-width="8.6" stroke-dasharray="0.9 1.1"/>
<path d="M329 206 Q328 190.6 342.8 189.6" fill="none" stroke="#174097" stroke-width="2.4" opacity="0.55"/>
<rect x="342.6" y="183.4" width="2.6" height="5.4" fill="#e9e9e9"/><rect x="345" y="185.4" width="2.6" height="1.2" fill="#dcdcdc"/>
<ellipse cx="342.6" cy="186.2" rx="1" ry="3" fill="#444"/>
<circle cx="267" cy="190.6" r="4.6" fill="#e3e3e3"/><circle cx="268" cy="190" r="2.6" fill="#bdbdbd"/>
<path d="M266.6 192 Q263.6 193 263.8 198 V205.6" fill="none" stroke="#f0f0f0" stroke-width="2.4"/>
<path d="M265.4 192.4 Q262.6 194 262.8 198 V205.6" fill="none" stroke="#a8a8a8" stroke-width="0.6"/>
</g>
</svg></body></html>
